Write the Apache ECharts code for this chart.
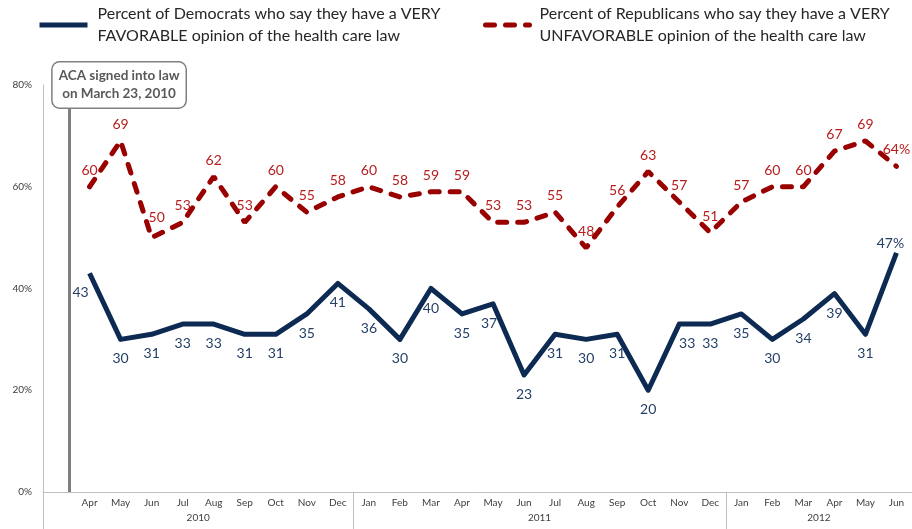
<!DOCTYPE html>
<html>
<head>
<meta charset="utf-8">
<script src="https://cdn.jsdelivr.net/npm/echarts@6/dist/echarts.min.js"></script>
<style>
  html, body { margin: 0; padding: 0; background: #ffffff; }
  #chart { width: 912px; height: 529px; }
</style>
</head>
<body>
<div id="chart"></div>
<script>
// ---- Data ----
const months2010 = ['Apr', 'May', 'Jun', 'Jul', 'Aug', 'Sep', 'Oct', 'Nov', 'Dec'];
const months2011 = ['Jan', 'Feb', 'Mar', 'Apr', 'May', 'Jun', 'Jul', 'Aug', 'Sep', 'Oct', 'Nov', 'Dec'];
const months2012 = ['Jan', 'Feb', 'Mar', 'Apr', 'May', 'Jun'];
const years = ['2010', '2011', '2012'];

const demValues = [43, 30, 31, 33, 33, 31, 31, 35, 41,
                   36, 30, 40, 35, 37, 23, 31, 30, 31, 20, 33, 33,
                   35, 30, 34, 39, 31, 47];
const repValues = [60, 69, 50, 53, 62, 53, 60, 55, 58,
                   60, 58, 59, 59, 53, 53, 55, 48, 56, 63, 57, 51,
                   57, 60, 60, 67, 69, 64];

const yTicks = [0, 20, 40, 60, 80];

const demName = 'Percent of Democrats who say they have a VERY\nFAVORABLE opinion of the health care law';
const repName = 'Percent of Republicans who say they have a VERY\nUNFAVORABLE opinion of the health care law';
const acaText = 'ACA signed into law\non March 23, 2010';
const ACA_POS = 0.84;   // position of the ACA marker on the band scale
const ACA_TOP = 75.5;   // where the marker line meets the box (percent scale)

// ---- Build ----
const categories = [''].concat(months2010, months2011, months2012);
const groupSizes = [1 + months2010.length, months2011.length, months2012.length];
const bounds = [0];
groupSizes.forEach(s => bounds.push(bounds[bounds.length - 1] + s));
const mids = groupSizes.map((s, i) => (bounds[i] + bounds[i + 1]) / 2);

const n = demValues.length;
const demData = ['-'].concat(demValues.map((v, i) => {
  const d = { value: v };
  if (i === 0) d.label = { offset: [-9, 0] };
  if (i === n - 1) d.label = { position: 'top', offset: [-6, 10], formatter: '{c}%' };
  if (i === 13) d.label = { offset: [-4, 0] };
  if (i === 19) d.label = { offset: [8, 0] };
  return d;
}));
const repData = ['-'].concat(repValues.map((v, i) => {
  const d = { value: v };
  if (i === 2) d.label = { offset: [5, -4] };
  if (i === n - 1) d.label = { formatter: '{c}%' };
  return d;
}));

const FONT = 'Lato, "Noto Sans", sans-serif';
const legendText = { fontFamily: FONT, fontSize: 16, lineHeight: 22, color: '#262626', padding: [0, 0, 0, 5] };
const chart = echarts.init(document.getElementById('chart'));
chart.setOption({
  animation: false,
  backgroundColor: '#ffffff',
  textStyle: { fontFamily: FONT },
  legend: [
    {
      left: 32, top: -2, data: [demName], itemWidth: 48, itemHeight: 12,
      textStyle: legendText, selectedMode: false,
      itemStyle: { opacity: 0 }, lineStyle: { width: 5 }
    },
    {
      left: 478, top: -2, data: [repName], itemWidth: 44, itemHeight: 12,
      textStyle: legendText, selectedMode: false,
      itemStyle: { opacity: 0 }, lineStyle: { width: 5 }
    }
  ],
  grid: { left: 43, right: 0, top: 85, bottom: 37, containLabel: false },
  xAxis: [
    {
      type: 'category', data: categories, boundaryGap: true,
      axisLine: { show: true, lineStyle: { color: '#BFBFBF', width: 1 } },
      axisTick: { show: false },
      axisLabel: { interval: 0, fontSize: 10, color: '#404040', margin: 6, fontFamily: FONT },
      splitLine: { show: false }
    },
    {
      type: 'value', min: 0, max: categories.length, position: 'bottom',
      axisLine: { show: false },
      splitLine: { show: false },
      axisTick: { show: true, customValues: bounds, length: 37, inside: false, lineStyle: { color: '#BFBFBF', width: 1 } },
      axisLabel: {
        show: true, customValues: mids, fontSize: 10, color: '#404040', margin: 21, fontFamily: FONT,
        formatter: v => { const k = mids.indexOf(v); return k >= 0 ? years[k] : ''; }
      }
    }
  ],
  yAxis: {
    type: 'value', min: 0, max: 80, interval: 20,
    axisLine: { show: true, lineStyle: { color: '#BFBFBF', width: 1 } },
    axisTick: { show: false },
    splitLine: { show: false },
    axisLabel: { formatter: '{value}%', fontSize: 10, color: '#404040', margin: 11, fontFamily: FONT }
  },
  series: [
    {
      name: demName, type: 'line', data: demData, xAxisIndex: 0,
      symbol: 'circle', symbolSize: 1, showSymbol: true, connectNulls: false,
      lineStyle: { color: '#0C2A52', width: 5, join: 'round' },
      itemStyle: { color: 'rgba(0,0,0,0)' },
      label: { show: true, position: 'bottom', distance: 12, fontSize: 14, color: '#243F66', fontFamily: FONT },
      z: 3
    },
    {
      name: repName, type: 'line', data: repData, xAxisIndex: 0,
      symbol: 'circle', symbolSize: 1, showSymbol: true,
      lineStyle: { color: '#990000', width: 5, type: [9, 11], cap: 'round' },
      itemStyle: { color: 'rgba(0,0,0,0)' },
      label: { show: true, position: 'top', distance: 9, fontSize: 14, color: '#B81C1C', fontFamily: FONT },
      z: 3
    },
    {
      name: 'aca', type: 'line', xAxisIndex: 1, data: [],
      markLine: {
        silent: true, symbol: ['none', 'none'], animation: false,
        lineStyle: { color: '#7F7F7F', width: 3, type: 'solid' },
        label: { show: false },
        data: [[{ coord: [ACA_POS, 0] }, { coord: [ACA_POS, ACA_TOP] }]]
      },
      markPoint: {
        silent: true, symbol: 'circle', symbolSize: 1, animation: false,
        itemStyle: { color: 'rgba(0,0,0,0)' },
        label: {
          show: true, position: 'inside', offset: [50, 0],
          formatter: acaText, fontFamily: FONT, fontSize: 13.5, fontWeight: 'bold',
          lineHeight: 18, color: '#595959', align: 'center',
          backgroundColor: '#ffffff', borderColor: '#7F7F7F', borderWidth: 1.5, borderRadius: 7,
          padding: [5, 6, 4, 6]
        },
        data: [{ coord: [ACA_POS, 80] }]
      },
      z: 5
    }
  ]
});
</script>
</body>
</html>
